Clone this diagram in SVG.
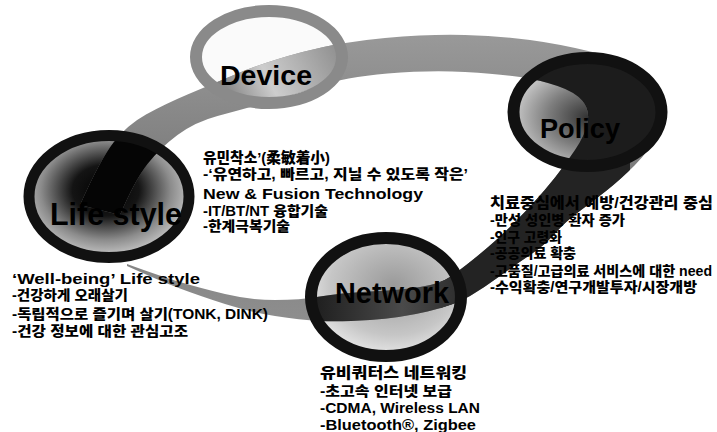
<svg xmlns="http://www.w3.org/2000/svg" width="717" height="432" viewBox="0 0 717 432">
<style>
.t{font-family:'Liberation Sans','Noto Sans CJK KR',sans-serif;font-weight:900;fill:#000;font-size:14px}
.h{font-size:15px}
.lbl{font-family:'Liberation Sans',Arial,sans-serif;font-weight:bold;fill:#000}
.ring{fill:none;stroke:#111;stroke-width:12}
</style>
<defs>
<path id="ribbonPath" d="M80,205 Q100,160 113.5,142.5 Q127,125 146,114.5 Q165,104 187.5,94.5 Q210,85 237.5,73.5 Q265,62 302.5,52 Q340,42 385,38 Q430,34 465,35 Q500,36 530,40 Q560,44 592.5,52 Q625,60 642.5,72.5 Q660,85 662.5,100 Q665,115 657.5,132.5 Q650,150 635,165 Q620,180 606,191 Q592,202 578.5,212 Q565,222 555,233.5 Q545,245 530,255 Q515,265 500,276 Q485,287 470,296 Q455,305 427.5,311.5 Q400,318 370,320 Q340,322 320,321 Q300,320 275,316 Q250,312 225,304 Q200,296 180,288.5 Q160,281 127,266 L127,264 Q160,276 180,282 Q200,288 225,294 Q250,300 275,300 Q300,300 320,296.5 Q340,293 370,291.5 Q400,290 420,287 Q440,284 450,277 Q460,270 472.5,260 Q485,250 495,241 Q505,232 515,222 Q525,212 535,201 Q545,190 555,177.5 Q565,165 575,150 Q585,135 587.5,122.5 Q590,110 582.5,101 Q575,92 557.5,86 Q540,80 520,77 Q500,74 465,72 Q430,70 387.5,73.5 Q345,77 317.5,86.5 Q290,96 265,103 Q240,110 217.5,116 Q195,122 177.5,135 Q160,148 147.5,164 Q135,180 120,215 Z"/>
<clipPath id="ribbonClip"><use href="#ribbonPath"/></clipPath>
<linearGradient id="ribbonGrad" x1="0" y1="0" x2="0" y2="1">
<stop offset="0" stop-color="#999"/><stop offset="0.5" stop-color="#7a7a7a"/><stop offset="1" stop-color="#8e8e8e"/>
</linearGradient>
<linearGradient id="devBand" gradientUnits="userSpaceOnUse" x1="195" y1="120" x2="345" y2="45">
<stop offset="0" stop-color="#444"/><stop offset="0.5" stop-color="#cdcdcd"/><stop offset="1" stop-color="#8a8a8a"/>
</linearGradient>
<radialGradient id="lifeFill" cx="0.48" cy="0.45" r="0.55">
<stop offset="0" stop-color="#000"/><stop offset="0.38" stop-color="#141414"/><stop offset="0.74" stop-color="#8c8c8c"/><stop offset="1" stop-color="#cacaca"/>
</radialGradient>
<radialGradient id="polFill" cx="0.5" cy="0.55" r="0.6">
<stop offset="0" stop-color="#333"/><stop offset="0.45" stop-color="#7e7e7e"/><stop offset="1" stop-color="#e8e8e8"/>
</radialGradient>
<radialGradient id="netFill" cx="0.55" cy="0.4" r="0.65">
<stop offset="0" stop-color="#9a9a9a"/><stop offset="0.65" stop-color="#c6c6c6"/><stop offset="1" stop-color="#f0f0f0"/>
</radialGradient>
<linearGradient id="netBand" gradientUnits="userSpaceOnUse" x1="305" y1="0" x2="467" y2="0">
<stop offset="0" stop-color="#1a1a1a"/><stop offset="0.6" stop-color="#4a4a4a"/><stop offset="1" stop-color="#2a2a2a"/>
</linearGradient>
</defs>

<g id="interiors">
<ellipse cx="269" cy="57" rx="73" ry="46" fill="#fafafa"/>
<ellipse cx="587.5" cy="112" rx="74" ry="54" fill="url(#polFill)"/>
<ellipse cx="109" cy="196.5" rx="80" ry="61" fill="url(#lifeFill)"/>
<ellipse cx="386" cy="297" rx="75" ry="59" fill="url(#netFill)"/>
</g>

<g id="connectors">
<use href="#ribbonPath" fill="url(#ribbonGrad)"/>
<g clip-path="url(#ribbonClip)">
<rect x="440" y="160" width="190" height="150" fill="#232323"/>
<ellipse cx="269" cy="57" rx="73" ry="46" fill="url(#devBand)"/>
<ellipse cx="587.5" cy="112" rx="74" ry="54" fill="#1c1c1c"/>
<ellipse cx="386" cy="297" rx="75" ry="59" fill="url(#netBand)"/>
<ellipse cx="109" cy="196.5" rx="80" ry="61" fill="#050505"/>
</g>
</g>

<g id="device">
<ellipse class="ring" cx="269" cy="57" rx="73" ry="46" style="stroke:#8a8a8a"/>
<text class="lbl" x="266" y="85" font-size="28" text-anchor="middle" textLength="92" lengthAdjust="spacingAndGlyphs">Device</text>
<text class="t h" x="203" y="163" textLength="127" lengthAdjust="spacingAndGlyphs">유민착소’(柔敏着小)</text>
<text class="t" x="203" y="179" textLength="265" lengthAdjust="spacingAndGlyphs">-‘유연하고, 빠르고, 지닐 수 있도록 작은’</text>
<text class="t h" x="203" y="199" font-size="16" textLength="220" lengthAdjust="spacingAndGlyphs">New &amp; Fusion Technology</text>
<text class="t" x="203" y="216" textLength="125" lengthAdjust="spacingAndGlyphs">-IT/BT/NT 융합기술</text>
<text class="t" x="203" y="231" textLength="87" lengthAdjust="spacingAndGlyphs">-한계극복기술</text>
</g>

<g id="policy">
<ellipse class="ring" cx="587.5" cy="112" rx="74" ry="54"/>
<text class="lbl" x="580" y="138" font-size="28" text-anchor="middle" textLength="80" lengthAdjust="spacingAndGlyphs">Policy</text>
<text class="t h" x="490" y="208" textLength="223" lengthAdjust="spacingAndGlyphs">치료중심에서 예방/건강관리 중심</text>
<text class="t" x="490" y="225" textLength="135" lengthAdjust="spacingAndGlyphs">-만성 성인병 환자 증가</text>
<text class="t" x="490" y="242" textLength="72" lengthAdjust="spacingAndGlyphs">-인구 고령화</text>
<text class="t" x="490" y="258" textLength="86" lengthAdjust="spacingAndGlyphs">-공공의료 확충</text>
<text class="t" x="490" y="276" textLength="222" lengthAdjust="spacingAndGlyphs">-고품질/고급의료 서비스에 대한 need</text>
<text class="t" x="490" y="292" textLength="207" lengthAdjust="spacingAndGlyphs">-수익확충/연구개발투자/시장개방</text>
</g>

<g id="lifestyle">
<ellipse class="ring" cx="109" cy="196.5" rx="80" ry="61" style="stroke-width:11"/>
<text class="lbl" x="116" y="225" font-size="32" text-anchor="middle" textLength="132" lengthAdjust="spacingAndGlyphs">Life style</text>
<text class="t h" x="12" y="284" font-size="16" textLength="188" lengthAdjust="spacingAndGlyphs">‘Well-being’ Life style</text>
<text class="t" x="12" y="300" textLength="116" lengthAdjust="spacingAndGlyphs">-건강하게 오래살기</text>
<text class="t" x="12" y="319" textLength="256" lengthAdjust="spacingAndGlyphs">-독립적으로 즐기며 살기(TONK, DINK)</text>
<text class="t" x="12" y="336" textLength="176" lengthAdjust="spacingAndGlyphs">-건강 정보에 대한 관심고조</text>
</g>

<g id="network">
<ellipse class="ring" cx="386" cy="297" rx="75" ry="59"/>
<text class="lbl" x="392" y="303" font-size="29" text-anchor="middle" textLength="114" lengthAdjust="spacingAndGlyphs">Network</text>
<text class="t h" x="320" y="378" textLength="147" lengthAdjust="spacingAndGlyphs">유비쿼터스 네트워킹</text>
<text class="t" x="320" y="396" textLength="132" lengthAdjust="spacingAndGlyphs">-초고속 인터넷 보급</text>
<text class="t" x="320" y="413" textLength="160" lengthAdjust="spacingAndGlyphs">-CDMA, Wireless LAN</text>
<text class="t" x="320" y="430" textLength="156" lengthAdjust="spacingAndGlyphs">-Bluetooth®, Zigbee</text>
</g>
</svg>
